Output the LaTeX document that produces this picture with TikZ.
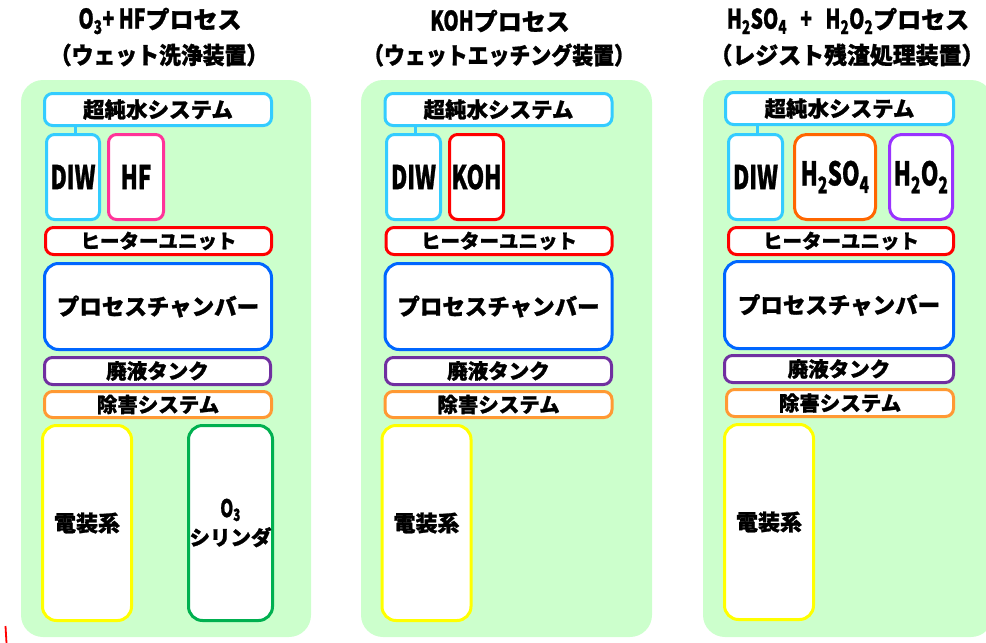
\documentclass[tikz,border=0pt]{standalone}
\usepackage{fontspec}
\setmainfont{Noto Sans CJK JP}[BoldFeatures={FakeBold=1.2}]
\usepackage{graphicx}
\definecolor{panelgreen}{HTML}{CCFFCC}
\definecolor{sky}{HTML}{33CCFF}
\definecolor{hfpink}{HTML}{FF3399}
\definecolor{heatred}{HTML}{FF0000}
\definecolor{chblue}{HTML}{0066FF}
\definecolor{wastepurple}{HTML}{7030A0}
\definecolor{abateorange}{HTML}{FF9933}
\definecolor{elecyellow}{HTML}{FFFF00}
\definecolor{o3green}{HTML}{00B050}
\definecolor{acidorange}{HTML}{FF6600}
\definecolor{peroxpurple}{HTML}{9933FF}
\newcommand\LT[1]{\scalebox{0.72}[1.05]{#1}}
\newcommand\TL[1]{{\fontsize{27}{27}\selectfont\scalebox{0.72}[1]{#1}}}
\newcommand\jpbox{\fontsize{20.5}{22}\selectfont\bfseries}
\newcommand\ltbox{\fontsize{31}{31}\selectfont\bfseries}
\newcommand\jptitle{\fontsize{24}{26}\selectfont\bfseries}
\newcommand\subtitle[2]{{\fontsize{23.5}{26}\selectfont\scalebox{#1}[1]{#2}}}
\begin{document}
\begin{tikzpicture}[x=1pt,y=-1pt,
  panel/.style={fill=panelgreen, draw=none, rounded corners=22pt},
  bx/.style={draw=#1, line width=3pt, fill=white, rounded corners=8pt,
    inner sep=0pt, align=center, font=\jpbox},
  bigbx/.style={bx=#1, rounded corners=14pt},
  title/.style={inner sep=0pt, align=center, font=\jptitle},
  link/.style={draw=sky, line width=3pt}]
\useasboundingbox (0,0) rectangle (986,643);
\clip (0,0) rectangle (986,643);

% ---------------- Panel 1 ----------------
\fill[panel] (21,80) rectangle (311,637);
\node[title] (t1a) at (160,21) {\TL{O\textsubscript{3}+ HF}プロセス};
\node[title] (t1b) at (159,55) {\subtitle{0.93}{（ウェット洗浄装置）}};
\node[bx=sky, minimum width=227pt, minimum height=32pt, font=\fontsize{21.5}{22}\selectfont\bfseries] (pure1) at (158,109.5) {超純水システム};
\node[bx=sky, minimum width=53pt, minimum height=85pt] (diw1) at (73,177) {\raisebox{-2pt}{\ltbox\LT{DIW}}};
\node[bx=hfpink, minimum width=55pt, minimum height=85pt] (hf1) at (136,177) {\raisebox{-2pt}{\ltbox\LT{HF}}};
\draw[link] ([xshift=2pt]diw1.north) -- ([xshift=2pt]diw1.north |- pure1.south);
\node[bx=heatred, minimum width=226pt, minimum height=27pt, font=\fontsize{19.5}{22}\selectfont\bfseries] (heat1) at (158.5,241) {ヒーターユニット};
\node[bigbx=chblue, minimum width=227pt, minimum height=86pt, font=\fontsize{22.5}{24}\selectfont\bfseries] (chamb1) at (158,306.5) {プロセスチャンバー};
\node[bx=wastepurple, minimum width=226pt, minimum height=27pt] (waste1) at (157.5,371) {\raisebox{-1pt}{廃液タンク}};
\node[bx=abateorange, minimum width=227pt, minimum height=26pt] (abate1) at (158,404.5) {\raisebox{-2pt}{除害システム}};
\node[bigbx=elecyellow, minimum width=89pt, minimum height=195pt, font=\fontsize{22}{24}\selectfont\bfseries] (elec1) at (87,523) {電装系};
\node[bigbx=o3green, minimum width=84pt, minimum height=195pt] (o3c1) at (230.5,523)
  {{\fontsize{23}{23}\selectfont\LT{O\textsubscript{3}}}\\[5pt]シリンダ};

% ---------------- Panel 2 ----------------
\fill[panel] (361,80) rectangle (652,637);
\node[title] (t2a) at (500,21) {\TL{KOH}プロセス};
\node[title] (t2b) at (499,55) {\subtitle{0.89}{（ウェットエッチング装置）}};
\node[bx=sky, minimum width=227pt, minimum height=32pt, font=\fontsize{21.5}{22}\selectfont\bfseries] (pure2) at (498.5,109.5) {超純水システム};
\node[bx=sky, minimum width=54pt, minimum height=85pt] (diw2) at (413.5,177) {\raisebox{-2pt}{\ltbox\LT{DIW}}};
\node[bx=heatred, minimum width=54pt, minimum height=85pt] (koh2) at (476.5,177) {\raisebox{-2pt}{\ltbox\LT{KOH}}};
\draw[link] ([xshift=2pt]diw2.north) -- ([xshift=2pt]diw2.north |- pure2.south);
\node[bx=heatred, minimum width=226pt, minimum height=27pt, font=\fontsize{19.5}{22}\selectfont\bfseries] (heat2) at (499,241) {ヒーターユニット};
\node[bigbx=chblue, minimum width=227pt, minimum height=86pt, font=\fontsize{22.5}{24}\selectfont\bfseries] (chamb2) at (498.5,306.5) {プロセスチャンバー};
\node[bx=wastepurple, minimum width=226pt, minimum height=27pt] (waste2) at (498.5,371) {\raisebox{-1pt}{廃液タンク}};
\node[bx=abateorange, minimum width=227pt, minimum height=26pt] (abate2) at (498.5,404.5) {\raisebox{-2pt}{除害システム}};
\node[bigbx=elecyellow, minimum width=89pt, minimum height=195pt, font=\fontsize{22}{24}\selectfont\bfseries] (elec2) at (426.5,523) {電装系};

% ---------------- Panel 3 ----------------
\fill[panel] (703,80) rectangle (993,637);
\node[title] (t3a) at (848,21) {\TL{H\textsubscript{2}SO\textsubscript{4}\ \ \ +\ \ \ H\textsubscript{2}O\textsubscript{2}}プロセス};
\node[title] (t3b) at (847,55) {\subtitle{0.975}{（レジスト残渣処理装置）}};
\node[bx=sky, minimum width=228pt, minimum height=32pt, font=\fontsize{21.5}{22}\selectfont\bfseries] (pure3) at (839.5,108.5) {超純水システム};
\node[bx=sky, minimum width=54pt, minimum height=85pt] (diw3) at (755.5,177) {\raisebox{-2pt}{\ltbox\LT{DIW}}};
\node[bx=acidorange, minimum width=81pt, minimum height=85pt, rounded corners=12pt] (acid3) at (835,177) {\ltbox\LT{H\textsubscript{2}SO\textsubscript{4}}};
\node[bx=peroxpurple, minimum width=63pt, minimum height=85pt, rounded corners=12pt] (perox3) at (921,177) {\ltbox\LT{H\textsubscript{2}O\textsubscript{2}}};
\draw[link] ([xshift=2pt]diw3.north) -- ([xshift=2pt]diw3.north |- pure3.south);
\node[bx=heatred, minimum width=225pt, minimum height=27pt, font=\fontsize{19.5}{22}\selectfont\bfseries] (heat3) at (841,241) {ヒーターユニット};
\node[bigbx=chblue, minimum width=229pt, minimum height=87pt, font=\fontsize{22.5}{24}\selectfont\bfseries] (chamb3) at (839,305) {プロセスチャンバー};
\node[bx=wastepurple, minimum width=229pt, minimum height=27pt] (waste3) at (839,369) {\raisebox{-1pt}{廃液タンク}};
\node[bx=abateorange, minimum width=227pt, minimum height=27pt] (abate3) at (840,403) {\raisebox{-2pt}{除害システム}};
\node[bigbx=elecyellow, minimum width=89pt, minimum height=195pt, font=\fontsize{22}{24}\selectfont\bfseries] (elec3) at (769,522) {電装系};

% stray red mark
\draw[heatred, line width=1.8pt] (5.5,626) -- (6.5,643);
\end{tikzpicture}
\end{document}
